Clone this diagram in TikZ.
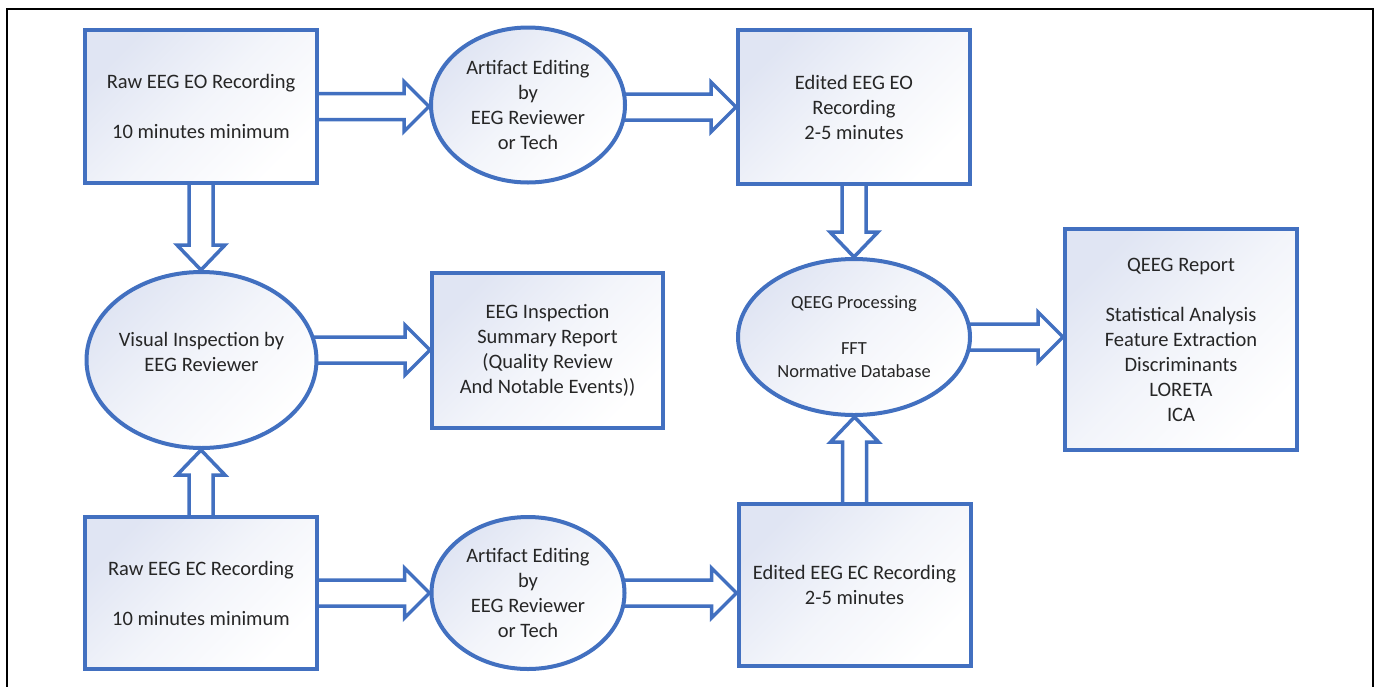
\documentclass[tikz,border=0pt]{standalone}
\usepackage{fontspec}
\setmainfont{Carlito}
\usetikzlibrary{calc,shapes.geometric,backgrounds}
\definecolor{eegblue}{RGB}{66,112,192}
\definecolor{eegfill}{RGB}{224,229,243}
\definecolor{eegtext}{RGB}{38,38,38}
% horizontal block arrow: #1 start anchor, #2 tip anchor, #3 node giving the y
\newcommand\harr[3]{%
  \draw[barrow] let \p1=(#1),\p2=(#2),\p3=(#3) in
    (\x1-10pt,\y3+13pt) -- (\x2-25pt,\y3+13pt) -- (\x2-25pt,\y3+25pt) -- (\x2,\y3)
    -- (\x2-25pt,\y3-25pt) -- (\x2-25pt,\y3-13pt) -- (\x1-10pt,\y3-13pt) -- cycle;}
% vertical block arrow: #1 start anchor, #2 tip anchor, #3 = 1 down, -1 up
\newcommand\varr[3]{%
  \draw[barrow] let \p1=(#1),\p2=(#2) in
    (\x1-12pt,\y1+#3*8pt) -- (\x1-12pt,\y2+#3*25pt) -- (\x1-24pt,\y2+#3*25pt) -- (\x1,\y2)
    -- (\x1+24pt,\y2+#3*25pt) -- (\x1+12pt,\y2+#3*25pt) -- (\x1+12pt,\y1+#3*8pt) -- cycle;}
\begin{document}
\begin{tikzpicture}[x=1pt,y=-1pt,
  shapebase/.style={draw=eegblue, line width=4pt, top color=eegfill, bottom color=white,
    middle color=eegfill!40!white, shading angle=45, inner sep=0pt, align=center, text=eegtext,
    font=\fontsize{20.5}{25}\selectfont},
  rbox/.style={shapebase, rectangle},
  ell/.style={shapebase, ellipse},
  txt/.style={align=center, text=eegtext, inner sep=0pt, font=\fontsize{20.5}{25}\selectfont},
  barrow/.style={draw=eegblue, line width=3.5pt, fill=white, line join=miter}]
\useasboundingbox (0,0) rectangle (1378,686);
\draw[line width=1.3pt] (7,690) -- (7,9) -- (1373,9) -- (1373,690);

\node[rbox, minimum width=232pt, minimum height=153pt] (b1) at (201,106.5)
  {Raw EEG EO Recording\\[25pt]10 minutes minimum};
\node[ell, minimum width=194pt, minimum height=155pt] (e1) at (528,105)
  {Artifact Editing\\by\\EEG Reviewer\\or Tech};
\node[rbox, minimum width=232pt, minimum height=154pt] (b2) at (854,107)
  {Edited EEG EO\\Recording\\2-5 minutes};
\node[ell, minimum width=230pt, minimum height=176pt] (vis) at (201.5,360) {};
\node[txt] (vist) at (201.5,352) {Visual Inspection by\\EEG Reviewer};
\node[rbox, minimum width=231pt, minimum height=155pt] (insp) at (547.5,350)
  {EEG Inspection\\Summary Report\\(Quality Review\\And Notable Events))};
\node[ell, minimum width=232pt, minimum height=156pt, font=\fontsize{18.5}{23}\selectfont] (q) at (854,337)
  {QEEG Processing\\[23pt]FFT\\Normative Database};
\node[rbox, minimum width=232pt, minimum height=221pt] (rep) at (1181,339.5)
  {QEEG Report\\[25pt]Statistical Analysis\\Feature Extraction\\Discriminants\\LORETA\\ICA};
\node[rbox, minimum width=232pt, minimum height=152pt] (b3) at (201,593)
  {Raw EEG EC Recording\\[25pt]10 minutes minimum};
\node[ell, minimum width=193pt, minimum height=152pt] (e2) at (528,593)
  {Artifact Editing\\by\\EEG Reviewer\\or Tech};
\node[rbox, minimum width=232pt, minimum height=162pt] (b4) at (854.5,585)
  {Edited EEG EC Recording\\2-5 minutes};

\begin{pgfonlayer}{background}
  \harr{b1.east}{e1.west}{b1}
  \harr{e1.east}{b2.west}{b2}
  \harr{vis.east}{insp.west}{insp}
  \harr{q.east}{rep.west}{q}
  \harr{b3.east}{e2.west}{e2}
  \harr{e2.east}{b4.west}{e2}
  \varr{b1.south}{vis.north}{1}
  \varr{b3.north}{vis.south}{-1}
  \varr{b2.south}{q.north}{1}
  \varr{b4.north}{q.south}{-1}
\end{pgfonlayer}
\end{tikzpicture}
\end{document}
